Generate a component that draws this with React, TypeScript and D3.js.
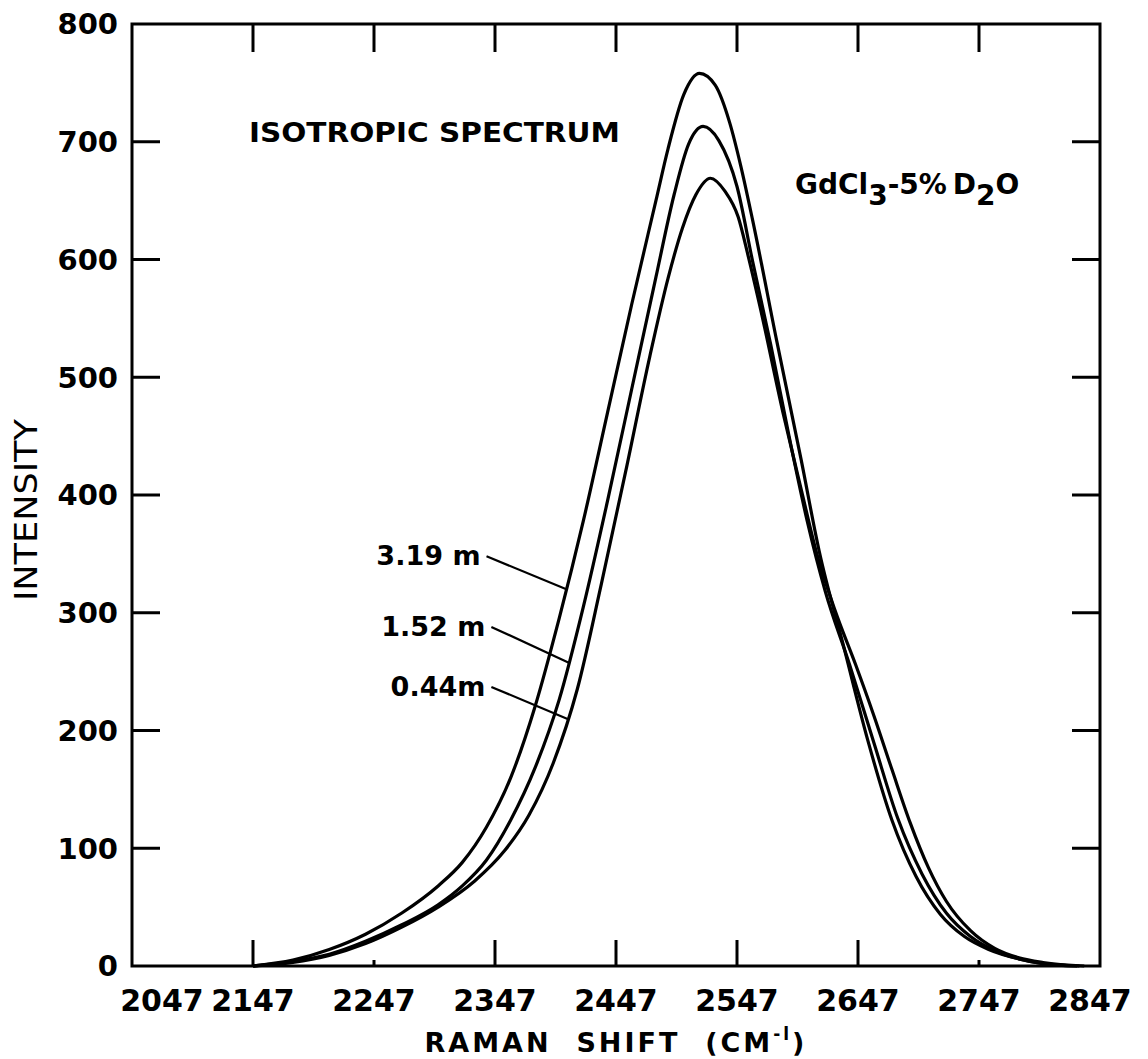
import React from "react";
import * as d3 from "d3";

// ---- data ----
const xTickValues = [2047, 2147, 2247, 2347, 2447, 2547, 2647, 2747, 2847];
const yTickValues = [0, 100, 200, 300, 400, 500, 600, 700, 800];
const innerTickX = [2147, 2247, 2347, 2447, 2547, 2647, 2747];
const innerTickY = [100, 200, 300, 400, 500, 600, 700];
const bottomMajorTicks = [2147, 2347, 2447, 2547, 2647];
const bottomMinorTicks = [2247, 2747];

const seriesNames = ["3.19 m", "1.52 m", "0.44m"];

const shift319 = [2147, 2180, 2210, 2240, 2270, 2300, 2320, 2340, 2360, 2380, 2400, 2420, 2440, 2460, 2480, 2490, 2503, 2516, 2529, 2541, 2550, 2560, 2580, 2600, 2615, 2635, 2655, 2675, 2695, 2715, 2735, 2755, 2780, 2800, 2828];
const int319 = [0, 5, 14, 27, 45, 68, 88, 118, 160, 220, 295, 378, 470, 562, 650, 694, 740, 758, 748, 716, 680, 633, 530, 430, 352, 272, 192, 124, 76, 44, 25, 14, 6, 2, 0];

const shift152 = [2147, 2180, 2210, 2240, 2270, 2300, 2320, 2340, 2360, 2380, 2400, 2420, 2440, 2460, 2480, 2495, 2507, 2519, 2532, 2547, 2560, 2575, 2590, 2605, 2620, 2640, 2660, 2680, 2700, 2720, 2740, 2760, 2780, 2800, 2830];
const int152 = [0, 4, 10, 21, 35, 52, 68, 90, 124, 168, 226, 305, 395, 490, 585, 655, 698, 713, 701, 662, 598, 527, 450, 378, 318, 256, 190, 125, 78, 45, 25, 13, 6, 2, 0];

const shift044 = [2147, 2180, 2210, 2240, 2270, 2300, 2330, 2355, 2375, 2395, 2415, 2435, 2455, 2475, 2490, 2502, 2513, 2525, 2537, 2548, 2556, 2566, 2585, 2600, 2613, 2628, 2645, 2660, 2675, 2690, 2705, 2720, 2740, 2760, 2780, 2800, 2834];
const int044 = [0, 3, 9, 19, 33, 50, 72, 98, 128, 172, 235, 325, 420, 518, 584, 627, 655, 669, 658, 636, 604, 560, 470, 405, 350, 302, 256, 213, 167, 122, 84, 55, 30, 15, 7, 3, 0];

// leader lines: label anchor (shift, intensity) -> point on curve at a shift
const leaderFromShift = [2340, 2344, 2344];
const leaderFromInt = [348, 288, 237];
const leaderToShift = [2406, 2408, 2407];

export default function App() {
  const W = 1148;
  const H = 1059;
  const x = d3.scaleLinear().domain([2047, 2847]).range([132, 1100]);
  const y = d3.scaleLinear().domain([0, 800]).range([966, 24]);

  const shifts = [shift319, shift152, shift044];
  const ints = [int319, int152, int044];
  const series = shifts.map((xs, si) =>
    xs.map((s, i) => [s, ints[si][i]] as [number, number])
  );

  const line = d3
    .line<[number, number]>()
    .x((d) => x(d[0]))
    .y((d) => y(d[1]))
    .curve(d3.curveMonotoneX);

  const font = "'DejaVu Sans', Verdana, sans-serif";
  const tickLen = 28;
  const x0 = x.range()[0];
  const x1 = x.range()[1];
  const yTop = y.range()[1];
  const yBot = y.range()[0];

  const onCurve = (si: number, s: number) => {
    const xs = shifts[si];
    const ys = ints[si];
    const idx = d3.bisectLeft(xs, s);
    if (idx <= 0) return ys[0];
    const t = (s - xs[idx - 1]) / (xs[idx] - xs[idx - 1]);
    return ys[idx - 1] + t * (ys[idx] - ys[idx - 1]);
  };

  return (
    <svg
      width={W}
      height={H}
      viewBox={`0 0 ${W} ${H}`}
      style={{ position: "absolute", left: 0, top: 0, background: "#fff" }}
    >
      <rect x={0} y={0} width={W} height={H} fill="#fff" />
      <rect
        x={x0}
        y={yTop}
        width={x1 - x0}
        height={yBot - yTop}
        fill="none"
        stroke="#000"
        strokeWidth={3}
      />
      {innerTickY.map((v) => (
        <g key={"yt" + v}>
          <line x1={x0} x2={x0 + tickLen} y1={y(v)} y2={y(v)} stroke="#000" strokeWidth={3} />
          <line x1={x1} x2={x1 - tickLen} y1={y(v)} y2={y(v)} stroke="#000" strokeWidth={3} />
        </g>
      ))}
      {innerTickX.map((v) => (
        <line key={"tt" + v} x1={x(v)} x2={x(v)} y1={yTop} y2={yTop + tickLen} stroke="#000" strokeWidth={3} />
      ))}
      {bottomMajorTicks.map((v) => (
        <line key={"bt" + v} x1={x(v)} x2={x(v)} y1={yBot} y2={yBot - 26} stroke="#000" strokeWidth={3} />
      ))}
      {bottomMinorTicks.map((v) => (
        <line key={"bm" + v} x1={x(v)} x2={x(v)} y1={yBot} y2={yBot - 6} stroke="#000" strokeWidth={3} />
      ))}
      {yTickValues.map((v) => (
        <text
          key={"yl" + v}
          x={118}
          y={y(v)}
          dy="0.36em"
          textAnchor="end"
          fontFamily={font}
          fontWeight="bold"
          fontSize={29}
        >
          {v}
        </text>
      ))}
      {xTickValues.map((v, i) => {
        let cx = x(v);
        if (i === 0) cx += 30;
        if (i === xTickValues.length - 1) cx -= 10;
        return (
          <text
            key={"xl" + v}
            x={cx}
            y={1011}
            textAnchor="middle"
            fontFamily={font}
            fontWeight="bold"
            fontSize={30}
          >
            {v}
          </text>
        );
      })}
      <text
        x={616}
        y={1052}
        textAnchor="middle"
        fontFamily={font}
        fontWeight="bold"
        fontSize={27}
        letterSpacing={3}
      >
        RAMAN{"\u00a0\u00a0"}SHIFT{"\u00a0\u00a0"}(CM
        <tspan dy={-12} fontSize={17}>-l</tspan>
        <tspan dy={12}>)</tspan>
      </text>
      <text
        transform={`translate(37, 510) rotate(-90)`}
        textAnchor="middle"
        fontFamily={font}
        fontSize={32}
        textLength={182}
        lengthAdjust="spacingAndGlyphs"
      >
        INTENSITY
      </text>
      <text x={249} y={142} fontFamily={font} fontWeight="bold" fontSize={27} textLength={371} lengthAdjust="spacingAndGlyphs">
        ISOTROPIC SPECTRUM
      </text>
      <text x={795} y={194} fontFamily={font} fontWeight="bold" fontSize={28}>
        GdCl
        <tspan dy={11}>3</tspan>
        <tspan dy={-11}>-5%</tspan>
        <tspan dx={6}>D</tspan>
        <tspan dy={11}>2</tspan>
        <tspan dy={-11}>O</tspan>
      </text>
      {series.map((s, i) => (
        <path key={"c" + i} d={line(s) || ""} fill="none" stroke="#000" strokeWidth={3.2} strokeLinejoin="round" />
      ))}
      {seriesNames.map((name, i) => (
        <g key={"ld" + i}>
          <text
            x={x(leaderFromShift[i]) - 6}
            y={y(leaderFromInt[i]) + 9}
            textAnchor="end"
            fontFamily={font}
            fontWeight="bold"
            fontSize={27}
          >
            {name}
          </text>
          <line
            x1={x(leaderFromShift[i])}
            y1={y(leaderFromInt[i])}
            x2={x(leaderToShift[i])}
            y2={y(onCurve(i, leaderToShift[i]))}
            stroke="#000"
            strokeWidth={2.2}
          />
        </g>
      ))}
    </svg>
  );
}
